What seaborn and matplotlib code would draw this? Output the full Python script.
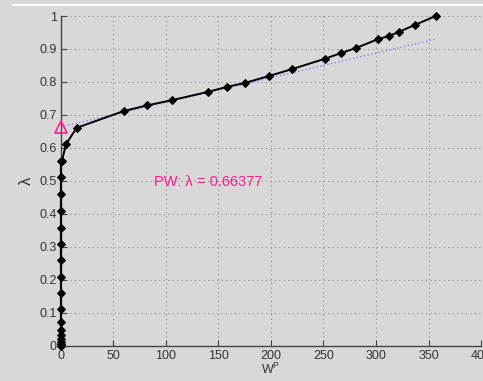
import numpy as np
import pandas as pd
import matplotlib
matplotlib.use("Agg")
import matplotlib.pyplot as plt
import seaborn as sns
from matplotlib.lines import Line2D

# data
wp = [0, 0, 0, 0, 0, 0, 0, 0, 0, 0, 0, 0, 0, 0, 0, 0, 0, 1, 5, 15,
      60, 82, 106, 140, 158, 175, 198, 220, 251, 267, 281, 302, 312, 322, 337, 357]
lam = [0, 0.006, 0.012, 0.021, 0.033, 0.048, 0.073, 0.112, 0.161, 0.21, 0.26, 0.309,
       0.358, 0.409, 0.46, 0.512, 0.561, 0.561, 0.612, 0.661,
       0.712, 0.729, 0.745, 0.770, 0.785, 0.797, 0.818, 0.839, 0.870, 0.888, 0.903,
       0.930, 0.939, 0.952, 0.973, 1.0]
fit_x = [0, 357]
fit_y = [0.66377, 0.930]
pw_x = [0]
pw_y = [0.66377]
label_text = "PW: λ = 0.66377"
xticks = [0, 50, 100, 150, 200, 250, 300, 350, 400]
yticks = [0, 0.1, 0.2, 0.3, 0.4, 0.5, 0.6, 0.7, 0.8, 0.9, 1]

bg = "#d8d8d8"
sns.set_theme(style="ticks")
plt.rcParams['font.family'] = ['Liberation Sans', 'DejaVu Sans']

fig = plt.figure(figsize=(4.83, 3.81), dpi=100, facecolor=bg)
ax = fig.add_axes([0.126, 0.092, 0.870, 0.866])
ax.set_facecolor(bg)

df = pd.DataFrame({"wp": wp, "lam": lam})
sns.lineplot(data=df, x="wp", y="lam", sort=False, estimator=None, ax=ax,
             color="black", linewidth=1.4, marker="D", markersize=4,
             markeredgecolor="black", zorder=3)
for ln in ax.lines:
    ln.set_clip_on(False)
fdf = pd.DataFrame({"x": fit_x, "y": fit_y})
sns.lineplot(data=fdf, x="x", y="y", ax=ax, color="#7070ff", linewidth=0.9,
             linestyle=(0, (1, 2)), zorder=2)
ax.plot(pw_x, pw_y, marker="^", markersize=8, markerfacecolor="none",
        markeredgecolor="#ff1a8c", markeredgewidth=1.2, linestyle="none",
        clip_on=False, zorder=4)
ax.text(89, 0.497, label_text, color="#ff1a8c", fontsize=10.5, va="center", ha="left")

ax.set_xlim(0, 400)
ax.set_ylim(0, 1)
ax.set_xticks(xticks)
ax.set_xticklabels([str(t) for t in xticks])
ax.set_yticks(yticks)
ax.set_yticklabels(["0", "0.1", "0.2", "0.3", "0.4", "0.5", "0.6", "0.7", "0.8", "0.9", "1"])
ax.grid(True, color="#888888", linestyle=(0, (1, 3)), linewidth=0.8)
ax.tick_params(direction="in", length=4, width=0.8, colors="#444444", labelsize=9,
               labelcolor="#333333", pad=3)
for s in ["top", "right"]:
    ax.spines[s].set_visible(False)
for s in ["left", "bottom"]:
    ax.spines[s].set_color("#444444")
    ax.spines[s].set_linewidth(1.0)
ax.set_xlabel("$\\mathregular{W^P}$", fontsize=9, color="#333333", labelpad=0)
ax.set_ylabel("λ", fontsize=12, color="#333333", labelpad=4)
fig.add_artist(Line2D([0.027, 1.0], [0.988, 0.988], color="white", linewidth=1.5,
                      transform=fig.transFigure))
fig.savefig("out.png", dpi=100, facecolor=bg)
